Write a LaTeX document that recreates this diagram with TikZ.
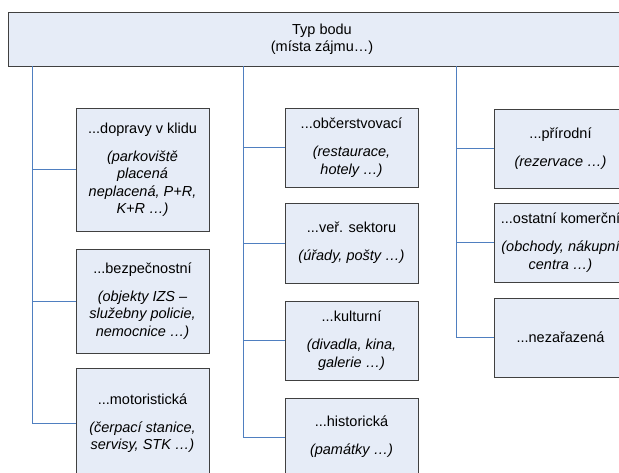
\documentclass[tikz,border=0pt]{standalone}
\usepackage{fontspec}
\setmainfont{Liberation Sans}
\definecolor{boxfill}{HTML}{E6ECF7}
\definecolor{boxline}{HTML}{404040}
\definecolor{linkcol}{HTML}{4F7FC0}
\begin{document}
\begin{tikzpicture}[x=1pt,y=-1pt,
  every node/.style={font=\fontsize{14.5}{17.5}\selectfont},
  catbox/.style={draw=boxline,fill=boxfill,line width=0.9pt,
    minimum width=133pt,inner sep=0pt,align=center},
  headbox/.style={draw=boxline,fill=boxfill,line width=0.9pt,
    minimum width=628pt,minimum height=54pt,inner sep=0pt,align=center},
  link/.style={draw=linkcol,line width=0.9pt}]
\useasboundingbox (0,0) rectangle (619,472);
\clip (0,0) rectangle (619,472);

% top box
\node[headbox] (top) at (322,39) {Typ bodu\\(místa zájmu…)};

% left column
\node[catbox,minimum height=123pt] (b1) at (142.5,169.5)
  {...dopravy v klidu\\[10.5pt]\itshape (parkoviště\\\itshape placená\\\itshape neplacená, P+R,\\\itshape K+R …)};
\node[catbox,minimum height=104pt] (b2) at (142.5,301)
  {...bezpečnostní\\[10.5pt]\itshape (objekty IZS –\\\itshape služebny policie,\\\itshape nemocnice …)};
\node[catbox,minimum height=110pt] (b3) at (142.5,423)
  {...motoristická\\[10.5pt]\itshape (čerpací stanice,\\\itshape servisy, STK …)};

% middle column
\node[catbox,minimum height=79pt] (m1) at (351.5,147.5)
  {...občerstvovací\\[10.5pt]\itshape (restaurace,\\\itshape hotely …)};
\node[catbox,minimum height=80pt] (m2) at (351.5,243)
  {...veř. sektoru\\[10.5pt]\itshape (úřady, pošty …)};
\node[catbox,minimum height=79pt] (m3) at (351.5,340.5)
  {...kulturní\\[10.5pt]\itshape (divadla, kina,\\\itshape galerie …)};
\node[catbox,minimum height=78pt] (m4) at (351.5,437)
  {...historická\\[10.5pt]\itshape (památky …)};

% right column
\node[catbox,minimum height=79pt] (r1) at (560.5,148.5)
  {...přírodní\\[10.5pt]\itshape (rezervace …)};
\node[catbox,minimum height=79pt] (r2) at (560.5,242.5)
  {...ostatní komerční\\[10.5pt]\itshape (obchody, nákupní\\\itshape centra …)};
\node[catbox,minimum height=79pt] (r3) at (560.5,337.5)
  {...nezařazená};

% trunk positions
\coordinate (lx) at (32,0);
\coordinate (mx) at (243,0);
\coordinate (rx) at (456,0);

% connectors
\draw[link] (top.south -| lx) |- (b3.west);
\draw[link] (lx |- b1.west) -- (b1.west);
\draw[link] (lx |- b2.west) -- (b2.west);

\draw[link] (top.south -| mx) |- (m4.west);
\draw[link] (mx |- m1.west) -- (m1.west);
\draw[link] (mx |- m2.west) -- (m2.west);
\draw[link] (mx |- m3.west) -- (m3.west);

\draw[link] (top.south -| rx) |- (r3.west);
\draw[link] (rx |- r1.west) -- (r1.west);
\draw[link] (rx |- r2.west) -- (r2.west);
\end{tikzpicture}
\end{document}
